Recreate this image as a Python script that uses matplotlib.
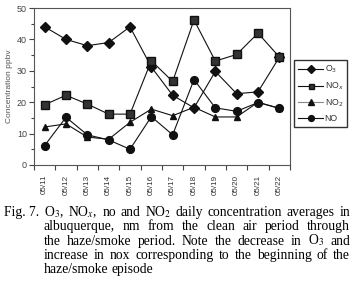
import matplotlib
matplotlib.use("Agg")
import matplotlib.pyplot as plt
from matplotlib.ticker import MultipleLocator, FixedLocator

# data (ppbv)
dates = ["05/11", "05/12", "05/13", "05/14", "05/15", "05/16",
         "05/17", "05/18", "05/19", "05/20", "05/21", "05/22"]
o3 = [44, 40, 38, 39, 44, 31.2, 22.2, 18.2, 29.8, 22.7, 23.3, 34.3]
nox = [19.2, 22.2, 19.4, 16.2, 16.2, 33.2, 26.6, 46.2, 33.1, 35.2, 42.0, 34.4]
no2 = [12.1, 13.1, 8.9, 8.2, 13.6, 17.8, 15.7, 18.4, 15.3, 15.3, 20.0, 18.0]
no = [6.2, 15.2, 9.6, 8.0, 5.0, 15.4, 9.6, 27.2, 18.2, 17.1, 19.9, 18.1]

caption = [
    "O$_3$, NO$_x$, no and NO$_2$ daily concentration averages in",
    "albuquerque, nm from the clean air period through",
    "the haze/smoke period. Note the decrease in O$_3$ and",
    "increase in nox corresponding to the beginning of the",
    "haze/smoke episode",
]

plt.rcParams["font.family"] = ["Liberation Sans", "DejaVu Sans"]

W, H = 356, 283
fig = plt.figure(figsize=(W/100, H/100), dpi=100)
ax = fig.add_axes([34/W, 1-165/H, 256/W, 157/H])

x = list(range(len(dates)))
lc = "#111111"
ax.plot(x, o3, color=lc, lw=0.8, marker="D", ms=4.6, label="O$_3$")
ax.plot(x, nox, color=lc, lw=0.8, marker="s", ms=5.2, mfc="#333333", label="NO$_x$")
ax.plot(x, no2, color=lc, lw=0.8, marker="^", ms=5.0, label="NO$_2$")
ax.plot(x, no, color=lc, lw=0.8, marker="o", ms=5.6, label="NO")

ax.set_xlim(-0.5, len(dates) - 0.5)
ax.set_ylim(0, 50)
ax.xaxis.set_major_locator(FixedLocator([i - 0.5 for i in range(len(dates) + 1)]))
ax.xaxis.set_minor_locator(FixedLocator(x))
ax.set_xticklabels([])
ax.set_xticklabels(dates, minor=True, rotation=90)
ax.tick_params(axis="x", which="major", length=3.5, width=0.8, color="#444444")
ax.tick_params(axis="x", which="minor", length=0, pad=7, labelsize=5.8, labelcolor="#333333")

ax.yaxis.set_major_locator(MultipleLocator(10))
ax.yaxis.set_minor_locator(MultipleLocator(5))
ax.tick_params(axis="y", which="major", length=3.5, width=0.8, color="#444444",
               labelsize=6.5, labelcolor="#444444", pad=1.5)
ax.tick_params(axis="y", which="minor", length=2.5, width=0.8, color="#444444")
for s in ax.spines.values():
    s.set_color("#555555")
    s.set_linewidth(0.8)
ax.set_ylabel("Concentration ppbv", fontsize=6, color="#555555", labelpad=3)

# legend (smaller markers, grey NO2 line like the original)
handles = [
    plt.Line2D([], [], color=lc, lw=0.8, marker="D", ms=3.6),
    plt.Line2D([], [], color=lc, lw=0.8, marker="s", ms=3.6, mfc="#333333"),
    plt.Line2D([], [], color="#888888", lw=0.8, marker="^", ms=3.8, mfc=lc, mec=lc),
    plt.Line2D([], [], color=lc, lw=0.8, marker="o", ms=4.2),
]
leg = fig.legend(handles, ["O$_3$", "NO$_x$", "NO$_2$", "NO"],
                 loc="upper left", bbox_to_anchor=(294/W, 1-60/H), fontsize=6.3,
                 frameon=True, fancybox=False, handlelength=2.9, handletextpad=0.15,
                 borderpad=0.45, labelspacing=0.6, borderaxespad=0)
leg.get_frame().set_edgecolor("black")
leg.get_frame().set_linewidth(1.0)
for t in leg.get_texts():
    t.set_color("#333333")

# justified caption
cap = dict(fontsize=9.8, family="Liberation Serif", math_fontfamily="stix", va="baseline")
fig.text(4/W, 1-216/H, "Fig. 7.", **cap)
r = fig.canvas.get_renderer()
x0, x1 = 44, 350
for i, ln in enumerate(caption):
    yb = 1 - (216 + 14.3*i)/H
    words = ln.split(" ")
    txts = [fig.text(0, yb, w, **cap) for w in words]
    widths = [t.get_window_extent(r).width for t in txts]
    if i < len(caption) - 1:
        gap = (x1 - x0 - sum(widths)) / (len(words) - 1)
    else:
        gap = 2.6
    pos = x0
    for t, w in zip(txts, widths):
        t.set_x(pos/W)
        pos += w + gap

fig.savefig("out.png", dpi=100)
